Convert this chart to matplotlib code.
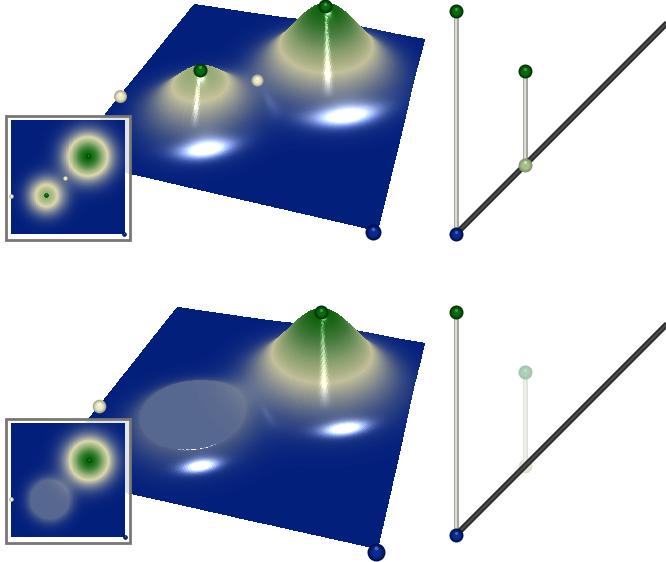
import matplotlib
matplotlib.use("Agg")
import matplotlib.pyplot as plt
import numpy as np
from matplotlib.colors import LinearSegmentedColormap, to_rgb
from matplotlib.patches import Rectangle
from matplotlib.transforms import offset_copy

W, H = 666, 562

# height field, one entry per panel: big peak, small peak
peak_u = [[0.675, 0.31], [0.685, 0.34]]
peak_v = [[0.316, 0.66], [0.325, 0.667]]
peak_amp = [[1.0, 0.63], [1.0, 0.63]]
peak_sigma = [[0.13, 0.105], [0.13, 0.104]]
peak_cap = [[None, None], [None, 0.165]]

# screen corners of the sheet: back, right, front right, left
corners = [
    [(194, 4), (424, 39), (377, 230), (69, 159)],
    [(177, 307), (424, 343), (377, 548), (45, 474)],
]
height_px = [65, 68]
shininess = [55, 130]
streak_gain = [0.45, 0.35]

# critical points on the sheet
node_u = [[0.675, 0.31, 0.47, 0.0, 0.99], [0.685, 0.0, 1.0]]
node_v = [[0.316, 0.66, 0.51, 0.667, 1.01], [0.325, 0.667, 1.012]]
node_h = [[1.0, 0.63, 0.2, 0.0, 0.0], [1.0, 0.0, 0.0]]
node_kind = [["max", "max", "saddle", "saddle", "min"], ["max", "saddle", "min"]]
node_r = [[7, 7, 6, 6.5, 8], [7, 6.8, 9]]

# persistence pairs
pair_birth = [[0.0, 0.31], [0.0, 0.31]]
pair_death = [[1.0, 0.73], [1.0, 0.73]]
faded_pair = [[False, False], [False, True]]

# pixel boxes
inset_box = [(11, 120, 125, 234), (11, 423, 125, 537)]
frame_box = [(6, 116, 130, 240), (6, 419, 130, 543)]
diagram_origin = [(456, 234), (456, 535)]
diagram_scale = 223

height_cmap = LinearSegmentedColormap.from_list(
    "height",
    [(0.0, "#021f7c"), (0.42, "#dcd8ae"), (0.5, "#bfc694"), (0.63, "#93b077"), (0.8, "#4f8a45"), (1.0, "#076507")],
)
sphere_colors = {
    "max": ("#013001", "#0b6a12", "#3f9a4a"),
    "saddle": ("#a9a98a", "#ecebc8", "#fbfbee"),
    "min": ("#010f45", "#0a2a94", "#4a63b8"),
    "mid": ("#7b9868", "#a9c08d", "#cfe0bb"),
    "ghost_max": ("#a2c4ab", "#b0cfb8", "#c8dfcd"),
    "ghost_mid": ("#dfe1d0", "#e6e8da", "#f0f1e8"),
}


def homography(quad):
    src = [(0, 0), (1, 0), (1, 1), (0, 1)]
    A, b = [], []
    for (u, v), (x, y) in zip(src, quad):
        A.append([u, v, 1, 0, 0, 0, -u * x, -v * x])
        A.append([0, 0, 0, u, v, 1, -u * y, -v * y])
        b += [x, y]
    return np.append(np.linalg.solve(np.array(A, float), np.array(b, float)), 1).reshape(3, 3)


def project(m, u, v, h, scale):
    u, v, h = np.asarray(u, float), np.asarray(v, float), np.asarray(h, float)
    w = m[2, 0] * u + m[2, 1] * v + m[2, 2]
    x = (m[0, 0] * u + m[0, 1] * v + m[0, 2]) / w
    y = (m[1, 0] * u + m[1, 1] * v + m[1, 2]) / w
    return x, y - h * scale


def peak_layers(uu, vv, panel):
    layers = []
    for pu, pv, a, s, cap in zip(
        peak_u[panel], peak_v[panel], peak_amp[panel], peak_sigma[panel], peak_cap[panel]
    ):
        g = a * np.exp(-((uu - pu) ** 2 + (vv - pv) ** 2) / (2 * s**2))
        if cap is not None:
            g = np.minimum(g, cap)
        layers.append(g)
    return layers


def normals(hh, du):
    hu = np.gradient(hh, du, axis=1) * 0.5
    hv = np.gradient(hh, du, axis=0) * 0.5
    norm = np.sqrt(hu**2 + hv**2 + 1)
    return -hu / norm, -hv / norm, 1 / norm


def highlight(nx, ny, nz, power):
    half = np.array([0.33, 0.62, 1.0])
    half = half / np.linalg.norm(half)
    ndh = np.clip(nx * half[0] + ny * half[1] + nz * half[2], 0, 1)
    return ndh**power + 0.2 * ndh ** (power * 0.5)


def shaded_colors(layers, capped, du, panel):
    hh = sum(layers)
    nx, ny, nz = normals(hh, du)
    spec = 0.2 * highlight(nx, ny, nz, shininess[panel])
    for g, cap in zip(layers, capped):
        gx, gy, gz = normals(g, du)
        spec = np.maximum(spec, highlight(gx, gy, gz, shininess[panel]))
        if cap is None:
            # faint line of light down the front of each peak, gone by the foot
            side = gx * 0.96 - gy * 0.28
            front = gx * 0.28 + gy * 0.96
            fade = np.clip((g - 0.2) / 0.2, 0, 1)
            spec = spec + streak_gain[panel] * np.exp(-((side / 0.06) ** 2)) * np.clip(front / 0.35, 0, 1) * fade
    rgb = height_cmap(np.clip(hh, 0, 1))[..., :3]
    rgb = rgb * (0.8 + 0.2 * nz)[..., None]
    rgb = rgb + spec[..., None]
    return np.clip(rgb, 0, 1)


def pixel_axes(fig, x0, y0, x1, y1, zorder=1):
    ax = fig.add_axes([x0 / W, 1 - y1 / H, (x1 - x0) / W, (y1 - y0) / H], zorder=zorder)
    ax.axis("off")
    return ax


def sphere(ax, x, y, r, kind, zorder=5):
    rim, base, glint = [np.array(to_rgb(c)) for c in sphere_colors[kind]]
    steps = 8
    for i in range(steps):
        f = i / (steps - 1)
        rad = r * (1 - 0.75 * f)
        col = rim + (base - rim) * min(1, f * 1.6)
        size = (2 * rad * 0.72) ** 2
        ax.scatter([x], [y], s=size, color=[col], linewidths=0, zorder=zorder + i * 0.01, clip_on=False)
    tr = offset_copy(ax.transData, fig=ax.figure, x=0, y=r * 0.35, units="dots")
    size = (2 * max(r * 0.22, 0.3) * 0.72) ** 2
    ax.scatter([x], [y], s=size, color=[glint], linewidths=0, zorder=zorder + 0.2, transform=tr, clip_on=False)


fig = plt.figure(figsize=(W / 100, H / 100), dpi=100, facecolor="white")
main = pixel_axes(fig, 0, 0, W, H)
main.set_xlim(0, W)
main.set_ylim(H, 0)

n = 420
grid = np.linspace(0, 1, n + 1)
uu, vv = np.meshgrid(grid, grid)

for panel in range(2):
    m = homography(corners[panel])
    layers = peak_layers(uu, vv, panel)
    hh = sum(layers)
    sx, sy = project(m, uu, vv, hh, height_px[panel])
    rgb = shaded_colors(layers, peak_cap[panel], grid[1] - grid[0], panel)[:-1, :-1]
    # rows run from the back of the sheet to the front, so near cells cover far ones
    main.pcolormesh(sx, sy, rgb, shading="flat", linewidth=0.4, edgecolors="face", antialiased=False, zorder=2)

    nx, ny = project(m, node_u[panel], node_v[panel], node_h[panel], height_px[panel])
    for x, y, r, kind in zip(nx, ny, node_r[panel], node_kind[panel]):
        sphere(main, x, y, r, kind, zorder=5)

    # top down inset
    fx0, fy0, fx1, fy1 = frame_box[panel]
    main.add_patch(Rectangle((fx0, fy0), fx1 - fx0, fy1 - fy0, facecolor=(1, 1, 1, 0.88),
                             edgecolor="#777777", linewidth=2.0, zorder=8))
    ix0, iy0, ix1, iy1 = inset_box[panel]
    inset = pixel_axes(fig, ix0, iy0, ix1, iy1, zorder=3)
    inset.set_xlim(0, 1)
    inset.set_ylim(1, 0)
    cgrid = np.linspace(0, 1, 229)
    cu, cv = np.meshgrid(cgrid, cgrid)
    inset.pcolormesh(cu, cv, height_cmap(np.clip(sum(peak_layers(cu, cv, panel)), 0, 1))[:-1, :-1, :3],
                     shading="flat", zorder=1)
    for u, v, kind in zip(node_u[panel], node_v[panel], node_kind[panel]):
        sphere(inset, min(u, 1), min(v, 1), 2.2, kind, zorder=3)

    # persistence diagram
    ox, oy = diagram_origin[panel]
    top = oy - 234
    diagram = pixel_axes(fig, 440, top, W, oy + 16, zorder=2)
    diagram.set_xlim(-16 / diagram_scale, (W - ox) / diagram_scale)
    diagram.set_ylim(-16 / diagram_scale, 234 / diagram_scale)
    lim = np.array([0, 1.1])
    diagram.plot(lim, lim, color="#2e2e2e", lw=4.2, solid_capstyle="butt", zorder=3)
    diagram.plot(lim, lim, color="#4c4c4c", lw=1.4, solid_capstyle="butt", zorder=3.1)
    for b, d, faded in zip(pair_birth[panel], pair_death[panel], faded_pair[panel]):
        outer, inner = ("#e2e2dd", "#efefeb") if faded else ("#a6a69e", "#dededa")
        diagram.plot([b, b], [b, d], color=outer, lw=3.6, solid_capstyle="butt", zorder=2)
        diagram.plot([b, b], [b, d], color=inner, lw=1.4, solid_capstyle="butt", zorder=2.1)
        if b == 0:
            sphere(diagram, b, b, 7, "min", zorder=5)
            sphere(diagram, b, d, 7, "max", zorder=5)
        elif faded:
            sphere(diagram, b, b, 7, "ghost_mid", zorder=1)
            sphere(diagram, b, d, 7, "ghost_max", zorder=5)
        else:
            sphere(diagram, b, b, 7, "mid", zorder=5)
            sphere(diagram, b, d, 7, "max", zorder=5)

fig.savefig("out.png", dpi=100, facecolor="white")
